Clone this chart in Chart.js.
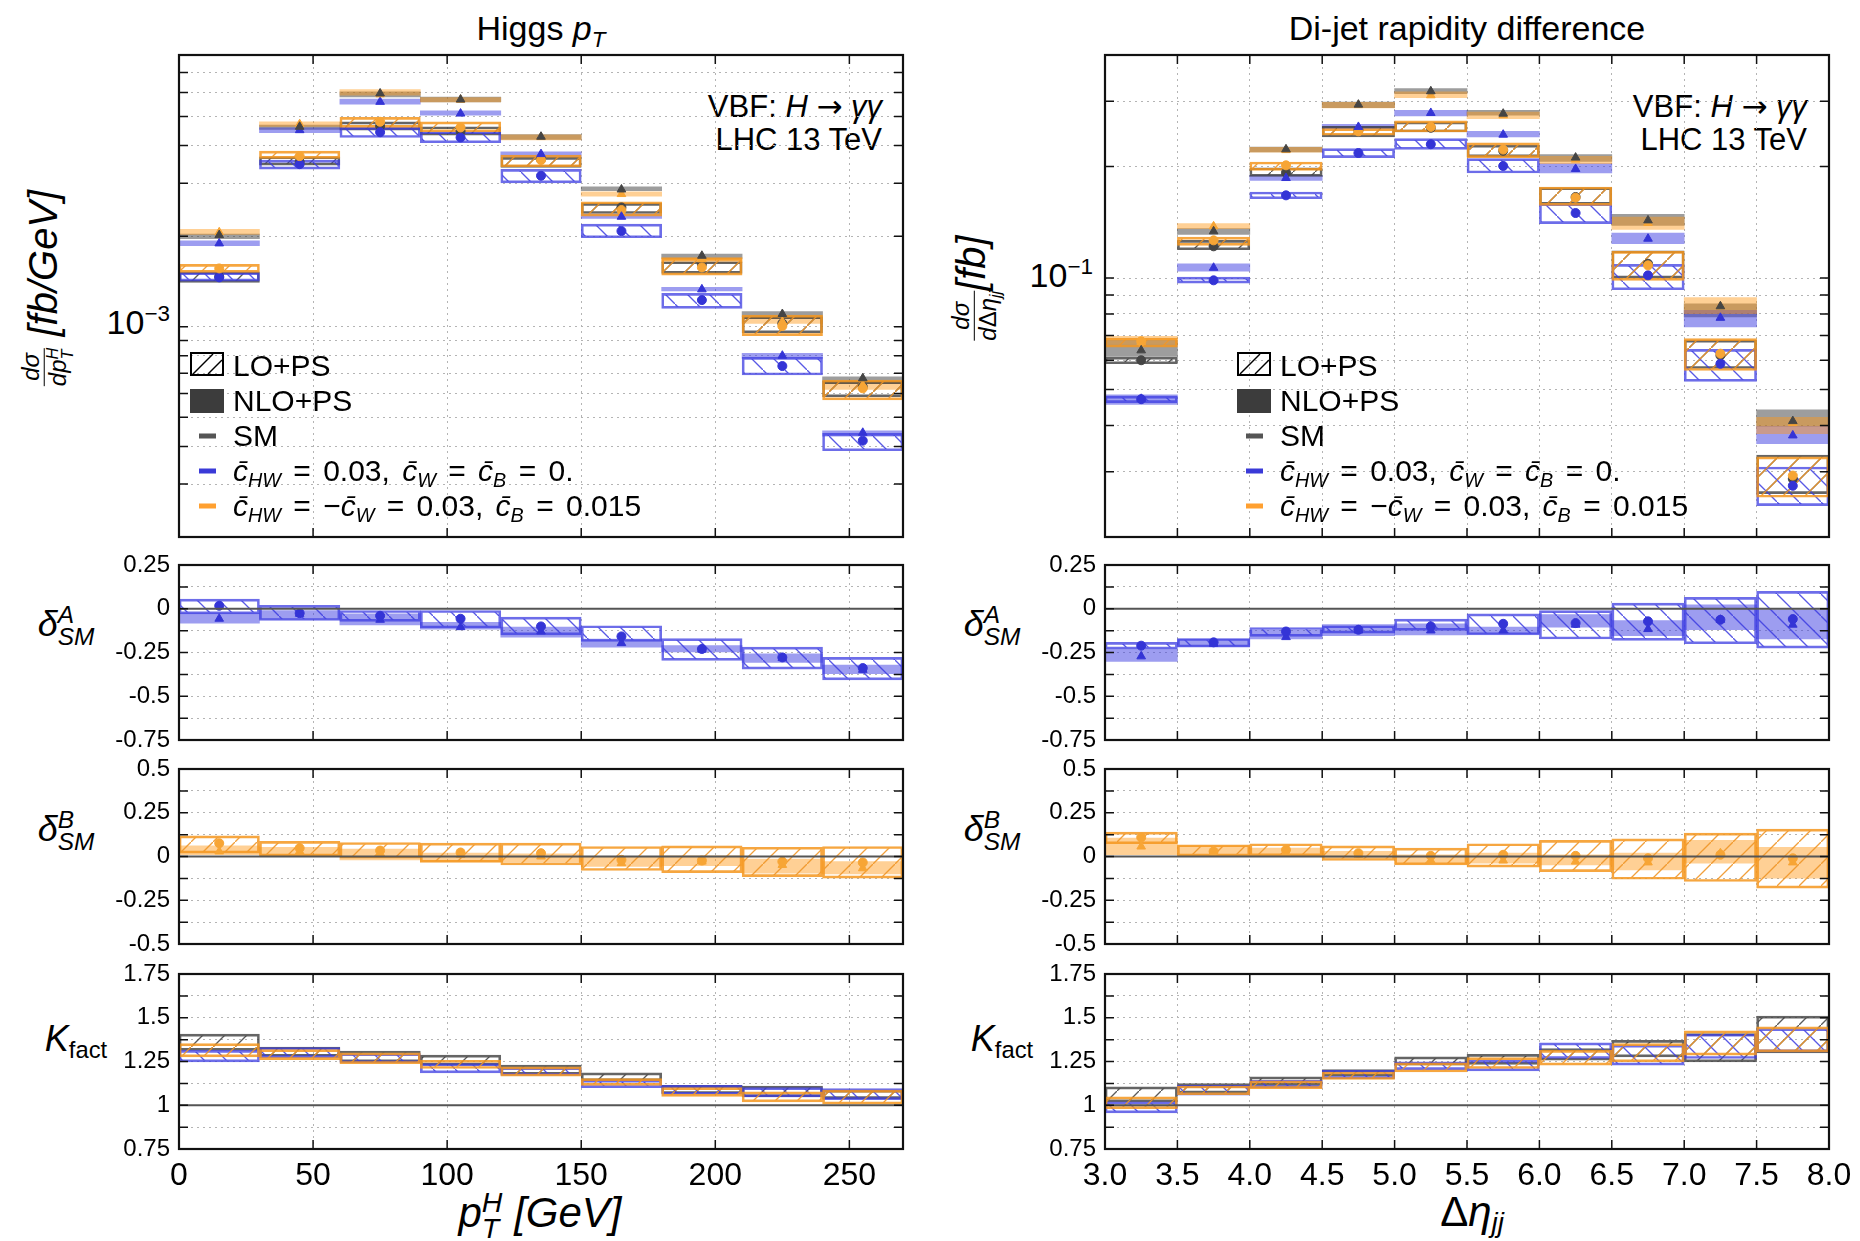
<!DOCTYPE html>
<html>
<head>
<meta charset="utf-8">
<script src="https://cdn.jsdelivr.net/npm/chart.js@4.4.1/dist/chart.umd.min.js"></script>
<style>
  body { margin: 0; width: 1860px; height: 1241px; background: #fff; position: relative; overflow: hidden;
         font-family: "Liberation Sans", Arial, sans-serif; }
  .t { position: absolute; white-space: nowrap; line-height: 1; color: #000; }
  .c { transform: translate(-50%, -50%); }
  .rot { transform: translate(-50%, -50%) rotate(-90deg); }
  .row { transform: translateY(-50%); word-spacing: 2px; }
  .math { word-spacing: 4px; }
  .sb { font-size: 0.66em; position: relative; top: 0.3em; }
  .sp { font-size: 0.66em; position: relative; top: -0.6em; }
  .st { display: inline-block; vertical-align: middle; font-size: 0.68em; line-height: 0.9; text-align: left; }
  .st > span { display: block; }
  .frac { display: inline-block; vertical-align: middle; text-align: center; font-size: 0.6em; line-height: 1.05; }
  .frac > span { display: block; }
  .frac > span:first-child { border-bottom: 1.5px solid #000; padding: 0 2px 1px; }
  .arr { font-family: "DejaVu Sans", sans-serif; }
  .ico { position: absolute; transform: translateY(-50%); }
  .dash { position: absolute; width: 17px; height: 5px; transform: translateY(-50%); }
</style>
</head>
<body>

<!-- titles -->
<div class="t c" style="left:541px;top:28px;font-size:34px">Higgs <i>p</i><span class="sb"><i>T</i></span></div>
<div class="t c" style="left:1467px;top:28px;font-size:34px">Di-jet rapidity difference</div>

<!-- process labels -->
<div class="t" style="right:978px;top:91px;font-size:31px">VBF: <i>H</i> <span class="arr">→</span> <i>γγ</i></div>
<div class="t" style="right:978px;top:124px;font-size:31px">LHC 13 TeV</div>
<div class="t" style="right:53px;top:91px;font-size:31px">VBF: <i>H</i> <span class="arr">→</span> <i>γγ</i></div>
<div class="t" style="right:53px;top:124px;font-size:31px">LHC 13 TeV</div>

<!-- y axis titles -->
<div class="t rot" style="left:46px;top:288px;font-size:40px"><span class="frac"><span><i>dσ</i></span><span><i>dp</i><span class="st"><span><i>H</i></span><span><i>T</i></span></span></span></span> <i>[fb/GeV]</i></div>
<div class="t rot" style="left:974px;top:288px;font-size:40px"><span class="frac"><span><i>dσ</i></span><span><i>d</i>Δ<i>η</i><span class="sb"><i>jj</i></span></span></span><i>[fb]</i></div>

<div class="t" id="lblMainL" style="right:1690px;top:305px;font-size:34px"></div>
<div class="t" id="lblMainR" style="right:767px;top:258px;font-size:34px"></div>

<div class="t c" style="left:66px;top:626px;font-size:36px"><i>δ</i><span class="st"><span><i>A</i></span><span><i>SM</i></span></span></div>
<div class="t c" style="left:66px;top:831px;font-size:36px"><i>δ</i><span class="st"><span><i>B</i></span><span><i>SM</i></span></span></div>
<div class="t c" style="left:76px;top:1039px;font-size:36px"><i>K</i><span class="sb">fact</span></div>
<div class="t c" style="left:992px;top:626px;font-size:36px"><i>δ</i><span class="st"><span><i>A</i></span><span><i>SM</i></span></span></div>
<div class="t c" style="left:992px;top:831px;font-size:36px"><i>δ</i><span class="st"><span><i>B</i></span><span><i>SM</i></span></span></div>
<div class="t c" style="left:1002px;top:1039px;font-size:36px"><i>K</i><span class="sb">fact</span></div>

<!-- x axis titles -->
<div class="t c" style="left:540px;top:1216px;font-size:42px"><i>p</i><span class="st"><span><i>H</i></span><span><i>T</i></span></span> <i>[GeV]</i></div>
<div class="t c" style="left:1472px;top:1212px;font-size:42px">Δ<i>η</i><span class="sb" style="top:0.22em"><i>jj</i></span></div>

<script>
// ---------- bins and ticks ----------
const ptCenters = [15, 45, 75, 105, 135, 165, 195, 225, 255];
const etaCenters = [3.25, 3.75, 4.25, 4.75, 5.25, 5.75, 6.25, 6.75, 7.25, 7.75];
const ptTicks = [0, 50, 100, 150, 200, 250];
const etaTicks = [3.0, 3.5, 4.0, 4.5, 5.0, 5.5, 6.0, 6.5, 7.0, 7.5, 8.0];
const logGridL = [2e-4, 3e-4, 4e-4, 5e-4, 6e-4, 7e-4, 8e-4, 9e-4, 1e-3, 2e-3, 3e-3, 4e-3, 5e-3, 6e-3, 7e-3, 8e-3];
const logGridR = [0.02, 0.03, 0.04, 0.05, 0.06, 0.07, 0.08, 0.09, 0.1, 0.2, 0.3, 0.4];
const mainLabelL = ['10', '−3'];
const mainLabelR = ['10', '−1'];
const dATicks = [0.25, 0.125, 0, -0.125, -0.25, -0.375, -0.5, -0.625, -0.75];
const dALabels = [0.25, 0, -0.25, -0.5, -0.75];
const dBTicks = [0.5, 0.375, 0.25, 0.125, 0, -0.125, -0.25, -0.375, -0.5];
const dBLabels = [0.5, 0.25, 0, -0.25, -0.5];
const kTicks = [1.75, 1.625, 1.5, 1.375, 1.25, 1.125, 1, 0.875, 0.75];
const kLabels = [1.75, 1.5, 1.25, 1, 0.75];

// ---------- Higgs pT, main panel: [low, high] bands ----------
const ptSmNlo = [[1.961e-3,2.030e-3],[4.524e-3,4.677e-3],[5.809e-3,6.036e-3],[5.590e-3,5.794e-3],[4.193e-3,4.355e-3],[2.830e-3,2.918e-3],[1.687e-3,1.743e-3],[1.079e-3,1.122e-3],[0.657e-3,0.682e-3]];
const ptANlo  = [[1.858e-3,1.931e-3],[4.411e-3,4.583e-3],[5.492e-3,5.706e-3],[5.050e-3,5.220e-3],[3.672e-3,3.814e-3],[2.291e-3,2.367e-3],[1.314e-3,1.351e-3],[0.785e-3,0.816e-3],[0.433e-3,0.451e-3]];
const ptBNlo  = [[2.027e-3,2.106e-3],[4.630e-3,4.800e-3],[5.884e-3,6.145e-3],[5.590e-3,5.780e-3],[4.180e-3,4.340e-3],[2.717e-3,2.808e-3],[1.636e-3,1.700e-3],[1.026e-3,1.079e-3],[0.619e-3,0.657e-3]];
const ptSmLo  = [[1.404e-3,1.523e-3],[3.444e-3,3.672e-3],[4.501e-3,4.797e-3],[4.334e-3,4.619e-3],[3.383e-3,3.653e-3],[2.379e-3,2.569e-3],[1.504e-3,1.644e-3],[0.955e-3,1.079e-3],[0.585e-3,0.657e-3]];
const ptALo   = [[1.418e-3,1.512e-3],[3.341e-3,3.579e-3],[4.256e-3,4.595e-3],[4.087e-3,4.445e-3],[3.008e-3,3.332e-3],[1.975e-3,2.193e-3],[1.151e-3,1.290e-3],[0.691e-3,0.791e-3],[0.387e-3,0.442e-3]];
const ptBLo   = [[1.515e-3,1.611e-3],[3.625e-3,3.833e-3],[4.595e-3,4.961e-3],[4.445e-3,4.797e-3],[3.401e-3,3.719e-3],[2.331e-3,2.602e-3],[1.484e-3,1.687e-3],[0.934e-3,1.093e-3],[0.571e-3,0.665e-3]];
// central values
const ptSmNloPt = [2.016e-3, 4.619e-3, 5.96e-3, 5.69e-3, 4.28e-3, 2.859e-3, 1.721e-3, 1.102e-3, 0.674e-3];
const ptANloPt  = [1.892e-3, 4.501e-3, 5.59e-3, 5.11e-3, 3.747e-3, 2.32e-3, 1.331e-3, 0.801e-3, 0.444e-3];
const ptBNloPt  = [2.06e-3, 4.713e-3, 5.92e-3, 5.68e-3, 4.27e-3, 2.76e-3, 1.674e-3, 1.039e-3, 0.64e-3];
const ptSmLoPt  = [1.466e-3, 3.533e-3, 4.64e-3, 4.467e-3, 3.60e-3, 2.492e-3, 1.611e-3, 1.026e-3, 0.632e-3];
const ptALoPt   = [1.459e-3, 3.47e-3, 4.43e-3, 4.256e-3, 3.175e-3, 2.079e-3, 1.226e-3, 0.740e-3, 0.418e-3];
const ptBLoPt   = [1.562e-3, 3.69e-3, 4.80e-3, 4.595e-3, 3.579e-3, 2.441e-3, 1.574e-3, 1.005e-3, 0.624e-3];

// ---------- Di-jet rapidity difference, main panel ----------
const etSmNlo = [[0.0614,0.0679],[0.1312,0.1359],[0.2189,0.2258],[0.2884,0.2987],[0.3146,0.3246],[0.2750,0.2836],[0.2065,0.2153],[0.1387,0.1485],[0.0785,0.0852],[0.0398,0.0441]];
const etANlo  = [[0.0456,0.0484],[0.1044,0.1093],[0.1835,0.1893],[0.2526,0.2600],[0.2738,0.2836],[0.2404,0.2489],[0.1921,0.2036],[0.1238,0.1323],[0.0738,0.0818],[0.0357,0.0398]];
const etBNlo  = [[0.0662,0.0696],[0.1359,0.1402],[0.2185,0.2255],[0.2880,0.2980],[0.3069,0.3180],[0.2692,0.2807],[0.2036,0.2131],[0.1353,0.1461],[0.0801,0.0885],[0.0380,0.0421]];
const etSmLo  = [[0.0587,0.0612],[0.1192,0.1264],[0.1881,0.1985],[0.2404,0.2569],[0.2479,0.2637],[0.2123,0.2283],[0.1581,0.1754],[0.1000,0.1185],[0.0570,0.0680],[0.0262,0.0333]];
const etALo   = [[0.0461,0.0480],[0.0969,0.1006],[0.1637,0.1707],[0.2114,0.2235],[0.2226,0.2379],[0.1921,0.2101],[0.1402,0.1587],[0.0930,0.1089],[0.0526,0.0642],[0.0243,0.0309]];
const etBLo   = [[0.0651,0.0689],[0.1225,0.1290],[0.1952,0.2057],[0.2429,0.2531],[0.2479,0.2655],[0.2114,0.2317],[0.1571,0.1761],[0.0986,0.1180],[0.0563,0.0686],[0.0256,0.0329]];
const etSmNloPt = [0.0638, 0.1337, 0.2226, 0.2938, 0.3193, 0.2778, 0.2114, 0.1431, 0.0839, 0.0411];
const etANloPt  = [0.0472, 0.1066, 0.1862, 0.2558, 0.2790, 0.2438, 0.1970, 0.1277, 0.0781, 0.0376];
const etBNloPt  = [0.0672, 0.1379, 0.2215, 0.2930, 0.3114, 0.2750, 0.2088, 0.1408, 0.0839, 0.0406];
const etSmLoPt  = [0.0600, 0.1218, 0.1925, 0.2509, 0.2545, 0.2205, 0.1655, 0.1093, 0.0618, 0.0287];
const etALoPt   = [0.0471, 0.0986, 0.1672, 0.2175, 0.2297, 0.2007, 0.1498, 0.1017, 0.0587, 0.0275];
const etBLoPt   = [0.0675, 0.1264, 0.2015, 0.2489, 0.2558, 0.2222, 0.1648, 0.1082, 0.0625, 0.0293];

// ---------- delta^A_SM ----------
const ptDALo  = [[-0.029,0.055],[-0.067,0.019],[-0.072,-0.010],[-0.110,-0.010],[-0.149,-0.048],[-0.187,-0.097],[-0.295,-0.171],[-0.345,-0.219],[-0.406,-0.278]];
const ptDANlo = [[-0.082,-0.025],[-0.059,-0.010],[-0.093,-0.029],[-0.116,-0.078],[-0.162,-0.105],[-0.219,-0.173],[-0.246,-0.211],[-0.307,-0.257],[-0.371,-0.322]];
const ptDALoPt  = [0.017, -0.025, -0.040, -0.057, -0.101, -0.158, -0.230, -0.278, -0.339];
const ptDANloPt = [-0.057, -0.029, -0.063, -0.105, -0.130, -0.196, -0.234, -0.282, -0.349];
const etDALo  = [[-0.230,-0.192],[-0.219,-0.170],[-0.158,-0.107],[-0.139,-0.097],[-0.124,-0.059],[-0.149,-0.029],[-0.173,-0.011],[-0.181,0.032],[-0.200,0.065],[-0.225,0.099]];
const etDANlo = [[-0.301,-0.230],[-0.215,-0.173],[-0.173,-0.124],[-0.154,-0.091],[-0.149,-0.086],[-0.143,-0.105],[-0.105,-0.034],[-0.154,-0.067],[-0.120,0.023],[-0.173,-0.006]];
const etDALoPt  = [-0.211, -0.192, -0.130, -0.120, -0.101, -0.086, -0.082, -0.072, -0.063, -0.059];
const etDANloPt = [-0.272, -0.200, -0.162, -0.124, -0.124, -0.124, -0.091, -0.116, -0.063, -0.091];

// ---------- delta^B_SM ----------
const ptDBLo  = [[0.019,0.118],[0.000,0.086],[-0.010,0.080],[-0.034,0.076],[-0.048,0.076],[-0.080,0.057],[-0.092,0.061],[-0.115,0.053],[-0.124,0.057]];
const ptDBNlo = [[0.010,0.061],[0.000,0.053],[-0.019,0.042],[-0.029,0.019],[-0.030,0.015],[-0.057,0.000],[-0.053,0.004],[-0.095,-0.015],[-0.099,-0.029]];
const ptDBLoPt  = [0.076, 0.048, 0.034, 0.023, 0.019, -0.019, -0.023, -0.029, -0.034];
const ptDBNloPt = [0.029, 0.029, 0.019, 0.010, 0.000, -0.038, -0.029, -0.048, -0.067];
const etDBLo  = [[0.073,0.139],[0.000,0.067],[0.004,0.073],[-0.023,0.061],[-0.048,0.048],[-0.061,0.073],[-0.086,0.092],[-0.130,0.101],[-0.143,0.134],[-0.181,0.156]];
const etDBNlo = [[0.010,0.105],[0.004,0.061],[0.000,0.048],[-0.010,0.029],[-0.042,0.010],[-0.038,0.019],[-0.048,0.010],[-0.076,0.019],[-0.038,0.092],[-0.124,0.053]];
const etDBLoPt  = [0.109, 0.029, 0.038, 0.019, 0.004, 0.010, 0.004, -0.010, 0.010, -0.010];
const etDBNloPt = [0.057, 0.029, 0.019, 0.010, -0.023, -0.023, -0.029, -0.034, 0.019, -0.034];

// ---------- K factor ----------
const ptKSm = [[1.314,1.406],[1.280,1.333],[1.248,1.310],[1.229,1.286],[1.177,1.229],[1.139,1.185],[1.067,1.114],[1.048,1.109],[1.038,1.086]];
const ptKA  = [[1.248,1.314],[1.272,1.330],[1.242,1.295],[1.185,1.238],[1.171,1.215],[1.101,1.143],[1.063,1.114],[1.048,1.101],[1.032,1.095]];
const ptKB  = [[1.276,1.352],[1.261,1.318],[1.238,1.299],[1.210,1.257],[1.166,1.219],[1.114,1.152],[1.051,1.101],[1.019,1.076],[1.006,1.086]];
const etKSm = [[1.019,1.105],[1.070,1.124],[1.114,1.162],[1.166,1.204],[1.229,1.276],[1.234,1.291],[1.257,1.324],[1.276,1.371],[1.248,1.410],[1.299,1.509]];
const etKA  = [[0.956,1.019],[1.057,1.114],[1.101,1.143],[1.152,1.200],[1.204,1.248],[1.196,1.257],[1.267,1.356],[1.229,1.343],[1.267,1.406],[1.305,1.438]];
const etKB  = [[0.981,1.048],[1.060,1.110],[1.095,1.139],[1.147,1.190],[1.190,1.242],[1.210,1.272],[1.229,1.314],[1.248,1.352],[1.286,1.425],[1.305,1.448]];

// ---------- styles ----------
const COL = {
  sm: { fill: 'rgba(60,60,60,0.5)',  line: 'rgba(50,50,50,0.75)',  hatch: 'rgba(50,50,50,0.8)',   pt: '#454545', dir: 1 },
  a:  { fill: 'rgba(60,60,225,0.5)', line: 'rgba(60,60,225,0.75)', hatch: 'rgba(60,60,225,0.85)', pt: '#3434d6', dir: -1 },
  b:  { fill: 'rgba(255,150,20,0.45)', line: 'rgba(245,150,30,0.85)', hatch: 'rgba(240,150,40,0.9)', pt: '#f7a535', dir: 1 }
};

Chart.defaults.font.family = '"Liberation Sans", Arial, sans-serif';
Chart.defaults.color = '#000';

function hatch(color, dir) {
  const n = 22;
  const c = document.createElement('canvas');
  c.width = n; c.height = n;
  const g = c.getContext('2d');
  g.strokeStyle = color;
  g.lineWidth = 1.3;
  g.beginPath();
  if (dir > 0) { g.moveTo(-2, n + 2); g.lineTo(n + 2, -2); }
  else { g.moveTo(-2, -2); g.lineTo(n + 2, n + 2); }
  g.stroke();
  return g.createPattern(c, 'repeat');
}

function boxSet(centers, pairs, c, hatched, order) {
  return {
    type: 'bar',
    data: centers.map((x, i) => ({ x: x, y: pairs[i] })),
    backgroundColor: hatched ? hatch(c.hatch, c.dir) : c.fill,
    borderColor: hatched ? c.line : 'rgba(0,0,0,0)',
    borderWidth: hatched ? 2 : 0,
    borderSkipped: false,
    grouped: false,
    barPercentage: 1,
    categoryPercentage: 1,
    order: order
  };
}

function pointSet(centers, vals, c, style, order) {
  return {
    type: 'line',
    data: centers.map((x, i) => ({ x: x, y: vals[i] })),
    showLine: false,
    pointStyle: style,
    pointRadius: style === 'triangle' ? 5 : 4.5,
    pointBackgroundColor: c.pt,
    pointBorderColor: c.pt,
    pointBorderWidth: 1,
    order: order
  };
}

const framePlugin = {
  id: 'frame',
  afterDatasetsDraw(chart, args, opts) {
    const { ctx, chartArea: a, scales } = chart;
    ctx.save();
    if (opts.ref !== undefined && opts.ref !== null) {
      const y = scales.y.getPixelForValue(opts.ref);
      ctx.strokeStyle = '#555';
      ctx.lineWidth = 2.2;
      ctx.beginPath(); ctx.moveTo(a.left, y); ctx.lineTo(a.right, y); ctx.stroke();
    }
    ctx.strokeStyle = '#111';
    ctx.lineWidth = 1.5;
    ctx.beginPath();
    scales.y.ticks.forEach(t => {
      const y = scales.y.getPixelForValue(t.value);
      ctx.moveTo(a.left, y); ctx.lineTo(a.left + 9, y);
      ctx.moveTo(a.right, y); ctx.lineTo(a.right - 9, y);
    });
    scales.x.ticks.forEach(t => {
      const x = scales.x.getPixelForValue(t.value);
      ctx.moveTo(x, a.top); ctx.lineTo(x, a.top + 9);
      ctx.moveTo(x, a.bottom); ctx.lineTo(x, a.bottom - 9);
    });
    ctx.stroke();
    ctx.lineWidth = 2.2;
    ctx.strokeRect(a.left, a.top, a.right - a.left, a.bottom - a.top);
    ctx.restore();
  }
};

const GEO = { colX: [179, 1105], colW: 724, rows: { main: [55, 482], da: [565, 175], db: [769, 175], k: [974, 175] } };

function makeChart(col, row, cfg) {
  const x0 = GEO.colX[col], w = GEO.colW;
  const [y0, h] = GEO.rows[row];
  const bottomAxis = row === 'k' ? 62 : 0;
  const W = w + 120 + 40, H = h + 30 + bottomAxis;
  const cv = document.createElement('canvas');
  cv.width = W; cv.height = H;
  cv.style.cssText = 'position:absolute;left:' + (x0 - 120) + 'px;top:' + (y0 - 15) + 'px;width:' + W + 'px;height:' + H + 'px';
  document.body.appendChild(cv);
  const xTicks = col === 0 ? ptTicks : etaTicks;
  new Chart(cv, {
    type: 'bar',
    data: { datasets: cfg.datasets },
    options: {
      responsive: false, animation: false, events: [],
      layout: { padding: { left: 0, right: 40, top: 15, bottom: 15 } },
      plugins: { legend: { display: false }, tooltip: { enabled: false }, frame: { ref: cfg.ref } },
      scales: {
        x: {
          type: 'linear', min: col === 0 ? 0 : 3, max: col === 0 ? 270 : 8, offset: false,
          grid: { offset: false, color: '#b4b4b4', lineWidth: 1, drawTicks: false },
          border: { display: false, dash: [2, 4] },
          afterBuildTicks: s => { s.ticks = xTicks.map(v => ({ value: v })); },
          ticks: {
            display: row === 'k', padding: 8, font: { size: 32 }, color: '#000',
            maxRotation: 0, autoSkip: false,
            callback: v => col === 0 ? String(v) : v.toFixed(1)
          },
          afterFit: s => { s.height = bottomAxis; s.paddingLeft = 0; s.paddingRight = 0; }
        },
        y: {
          type: cfg.yType, min: cfg.yMin, max: cfg.yMax,
          grid: { color: '#b4b4b4', lineWidth: 1, drawTicks: false },
          border: { display: false, dash: [2, 4] },
          afterBuildTicks: s => { s.ticks = cfg.yTicks.map(v => ({ value: v })); },
          ticks: {
            padding: 9, font: { size: 24 }, color: '#000', autoSkip: false,
            callback: v => cfg.yLabels.includes(v) ? String(v) : ''
          },
          afterFit: s => { s.width = 120; s.paddingTop = 0; s.paddingBottom = 0; }
        }
      }
    },
    plugins: [framePlugin]
  });
}

function mainSets(cx, d) {
  return [
    pointSet(cx, d.smNloPt, COL.sm, 'triangle', 1),
    pointSet(cx, d.bNloPt, COL.b, 'triangle', 1),
    pointSet(cx, d.aNloPt, COL.a, 'triangle', 1),
    pointSet(cx, d.bLoPt, COL.b, 'circle', 1),
    pointSet(cx, d.aLoPt, COL.a, 'circle', 1),
    pointSet(cx, d.smLoPt, COL.sm, 'circle', 1.5),
    boxSet(cx, d.bLo, COL.b, true, 2),
    boxSet(cx, d.aLo, COL.a, true, 2),
    boxSet(cx, d.smLo, COL.sm, true, 2),
    boxSet(cx, d.bNlo, COL.b, false, 3),
    boxSet(cx, d.aNlo, COL.a, false, 3),
    boxSet(cx, d.smNlo, COL.sm, false, 3)
  ];
}

function deltaSets(cx, lo, nlo, loPt, nloPt, c) {
  return [
    pointSet(cx, loPt, c, 'circle', 1),
    pointSet(cx, nloPt, c, 'triangle', 1),
    boxSet(cx, lo, c, true, 2),
    boxSet(cx, nlo, c, false, 3)
  ];
}

function kSets(cx, sm, a, b) {
  return [
    boxSet(cx, b, COL.b, true, 1),
    boxSet(cx, a, COL.a, true, 2),
    boxSet(cx, sm, COL.sm, true, 3)
  ];
}

// left column: Higgs pT
makeChart(0, 'main', {
  yType: 'logarithmic', yMin: 2e-4, yMax: 8e-3, yTicks: logGridL, yLabels: [],
  datasets: mainSets(ptCenters, {
    smNlo: ptSmNlo, aNlo: ptANlo, bNlo: ptBNlo, smLo: ptSmLo, aLo: ptALo, bLo: ptBLo,
    smNloPt: ptSmNloPt, aNloPt: ptANloPt, bNloPt: ptBNloPt, smLoPt: ptSmLoPt, aLoPt: ptALoPt, bLoPt: ptBLoPt
  })
});
makeChart(0, 'da', { yType: 'linear', yMin: -0.75, yMax: 0.25, yTicks: dATicks, yLabels: dALabels, ref: 0,
  datasets: deltaSets(ptCenters, ptDALo, ptDANlo, ptDALoPt, ptDANloPt, COL.a) });
makeChart(0, 'db', { yType: 'linear', yMin: -0.5, yMax: 0.5, yTicks: dBTicks, yLabels: dBLabels, ref: 0,
  datasets: deltaSets(ptCenters, ptDBLo, ptDBNlo, ptDBLoPt, ptDBNloPt, COL.b) });
makeChart(0, 'k', { yType: 'linear', yMin: 0.75, yMax: 1.75, yTicks: kTicks, yLabels: kLabels, ref: 1,
  datasets: kSets(ptCenters, ptKSm, ptKA, ptKB) });

// right column: di-jet rapidity difference
makeChart(1, 'main', {
  yType: 'logarithmic', yMin: 0.02, yMax: 0.4, yTicks: logGridR, yLabels: [],
  datasets: mainSets(etaCenters, {
    smNlo: etSmNlo, aNlo: etANlo, bNlo: etBNlo, smLo: etSmLo, aLo: etALo, bLo: etBLo,
    smNloPt: etSmNloPt, aNloPt: etANloPt, bNloPt: etBNloPt, smLoPt: etSmLoPt, aLoPt: etALoPt, bLoPt: etBLoPt
  })
});
makeChart(1, 'da', { yType: 'linear', yMin: -0.75, yMax: 0.25, yTicks: dATicks, yLabels: dALabels, ref: 0,
  datasets: deltaSets(etaCenters, etDALo, etDANlo, etDALoPt, etDANloPt, COL.a) });
makeChart(1, 'db', { yType: 'linear', yMin: -0.5, yMax: 0.5, yTicks: dBTicks, yLabels: dBLabels, ref: 0,
  datasets: deltaSets(etaCenters, etDBLo, etDBNlo, etDBLoPt, etDBNloPt, COL.b) });
makeChart(1, 'k', { yType: 'linear', yMin: 0.75, yMax: 1.75, yTicks: kTicks, yLabels: kLabels, ref: 1,
  datasets: kSets(etaCenters, etKSm, etKA, etKB) });

// decade labels of the log axes
document.getElementById('lblMainL').innerHTML = mainLabelL[0] + '<span class="sp">' + mainLabelL[1] + '</span>';
document.getElementById('lblMainR').innerHTML = mainLabelR[0] + '<span class="sp">' + mainLabelR[1] + '</span>';

// legends (drawn as html on top of the main panels)
const legendRows = [366, 401, 436, 471, 506];
const legendText = [
  'LO+PS',
  'NLO+PS',
  'SM',
  '<i>c&#x304;</i><span class="sb"><i>HW</i></span> = 0.03, <i>c&#x304;</i><span class="sb"><i>W</i></span> = <i>c&#x304;</i><span class="sb"><i>B</i></span> = 0.',
  '<i>c&#x304;</i><span class="sb"><i>HW</i></span> = −<i>c&#x304;</i><span class="sb"><i>W</i></span> = 0.03, <i>c&#x304;</i><span class="sb"><i>B</i></span> = 0.015'
];
const legendDash = [null, null, '#555555', '#3a3ad8', '#ffa030'];
[[190, 233], [1237, 1280]].forEach(([ix, tx]) => {
  legendRows.forEach((y, i) => {
    if (i === 0) {
      const d = document.createElement('div');
      d.className = 'ico';
      d.style.cssText += 'left:' + ix + 'px;top:' + y + 'px';
      d.innerHTML = '<svg width="34" height="24"><rect x="1" y="1" width="32" height="22" fill="none" stroke="#000" stroke-width="2"/>' +
        '<line x1="3" y1="22" x2="23" y2="2" stroke="#000" stroke-width="1.5"/><line x1="18" y1="22" x2="32" y2="8" stroke="#000" stroke-width="1.5"/></svg>';
      document.body.appendChild(d);
    } else if (i === 1) {
      const d = document.createElement('div');
      d.className = 'ico';
      d.style.cssText += 'left:' + ix + 'px;top:' + y + 'px;width:34px;height:24px;background:#3c3c3c';
      document.body.appendChild(d);
    } else {
      const d = document.createElement('div');
      d.className = 'dash';
      d.style.cssText += 'left:' + (ix + 9) + 'px;top:' + y + 'px;background:' + legendDash[i];
      document.body.appendChild(d);
    }
    const t = document.createElement('div');
    t.className = i > 2 ? 't row math' : 't row';
    t.style.cssText += 'left:' + tx + 'px;top:' + y + 'px;font-size:30px';
    t.innerHTML = legendText[i];
    document.body.appendChild(t);
  });
});
</script>
</body>
</html>
